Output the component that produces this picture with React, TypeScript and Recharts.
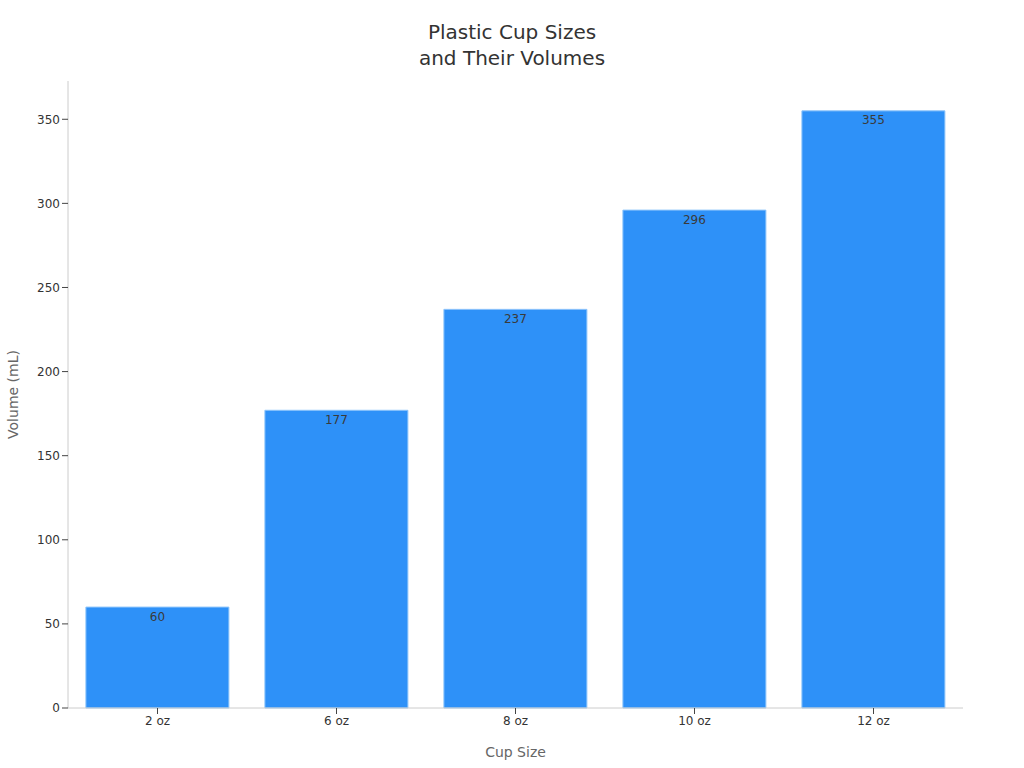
import { BarChart, Bar, XAxis, YAxis, LabelList } from "recharts";

const cupSizes = ["2 oz", "6 oz", "8 oz", "10 oz", "12 oz"];
const volumes = [60, 177, 237, 296, 355];
const yTicks = [0, 50, 100, 150, 200, 250, 300, 350];

const data = cupSizes.map((size, i) => ({ size, volume: volumes[i] }));

const font = "'DejaVu Sans', sans-serif";
const tickStyle = { fill: "#333", fontSize: 12, fontFamily: font };

export default function App() {
  return (
    <div style={{ position: "absolute", left: 0, top: 0, width: 1024, height: 768, background: "#fff", fontFamily: font }}>
      <div
        style={{
          position: "absolute",
          top: 19,
          left: 0,
          width: 1024,
          textAlign: "center",
          fontSize: 20,
          lineHeight: "26px",
          color: "#333",
        }}
      >
        Plastic Cup Sizes
        <br />
        and Their Volumes
      </div>
      <BarChart
        width={1024}
        height={768}
        data={data}
        margin={{ top: 81, right: 61, bottom: 0, left: 1 }}
        barCategoryGap="10%"
      >
        <XAxis
          dataKey="size"
          height={60}
          tick={tickStyle}
          axisLine={{ stroke: "#ccc" }}
          tickLine={{ stroke: "#444" }}
          label={{
            value: "Cup Size",
            position: "insideBottom",
            offset: 11,
            style: { fill: "#666", fontSize: 14, fontFamily: font },
          }}
        />
        <YAxis
          width={67}
          domain={[0, 372.75]}
          ticks={yTicks}
          tick={tickStyle}
          axisLine={{ stroke: "#ccc" }}
          tickLine={{ stroke: "#444" }}
          label={{
            value: "Volume (mL)",
            angle: -90,
            position: "insideLeft",
            offset: 12,
            style: { fill: "#666", fontSize: 14, fontFamily: font, textAnchor: "middle" },
          }}
        />
        <Bar dataKey="volume" fill="#2E91F8" stroke="#8ec5fb" strokeWidth={1} isAnimationActive={false}>
          <LabelList dataKey="volume" position="insideTop" style={{ fill: "#3a3a3a", fontSize: 12, fontFamily: font }} />
        </Bar>
      </BarChart>
    </div>
  );
}
